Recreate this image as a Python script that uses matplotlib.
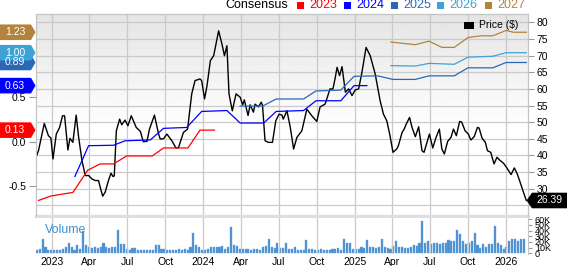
import pandas as pd
import matplotlib
matplotlib.use('Agg')
import matplotlib.pyplot as plt
import numpy as np
from matplotlib.patches import Polygon, Rectangle
from matplotlib.transforms import IdentityTransform

plt.rcParams['font.family'] = ['Liberation Sans', 'DejaVu Sans']

# ---- data ----
price_dates = ['2022-11-23', '2022-11-29', '2022-12-13', '2022-12-23', '2022-12-29', '2023-01-03',
               '2023-01-11', '2023-01-19', '2023-01-26', '2023-01-31', '2023-02-08', '2023-02-13',
               '2023-02-20', '2023-02-28', '2023-03-06', '2023-03-14', '2023-03-22', '2023-03-30',
               '2023-04-07', '2023-04-15', '2023-04-23', '2023-04-27', '2023-05-03', '2023-05-09',
               '2023-05-17', '2023-05-23', '2023-05-28', '2023-05-31', '2023-06-05', '2023-06-13',
               '2023-06-18', '2023-06-26', '2023-07-03', '2023-07-11', '2023-07-23', '2023-08-02',
               '2023-08-09', '2023-08-18', '2023-08-24', '2023-09-05', '2023-09-15', '2023-09-19',
               '2023-09-27', '2023-10-05', '2023-10-17', '2023-10-27', '2023-11-02', '2023-11-14',
               '2023-11-24', '2023-12-04', '2023-12-12', '2023-12-24', '2023-12-28', '2024-01-04',
               '2024-01-10', '2024-01-18', '2024-01-26', '2024-02-07', '2024-02-15', '2024-02-21',
               '2024-02-27', '2024-03-03', '2024-03-11', '2024-03-20', '2024-03-30', '2024-04-05',
               '2024-04-09', '2024-04-18', '2024-04-23', '2024-05-01', '2024-05-05', '2024-05-13',
               '2024-05-20', '2024-05-23', '2024-05-29', '2024-06-06', '2024-06-16', '2024-06-24',
               '2024-07-02', '2024-07-09', '2024-07-12', '2024-07-21', '2024-07-29', '2024-08-06',
               '2024-08-14', '2024-08-26', '2024-09-07', '2024-09-19', '2024-10-01', '2024-10-09',
               '2024-10-21', '2024-11-02', '2024-11-09', '2024-11-14', '2024-11-19', '2024-11-25',
               '2024-12-01', '2024-12-09', '2024-12-17', '2024-12-25', '2025-01-02', '2025-01-10',
               '2025-01-18', '2025-01-28', '2025-02-07', '2025-02-19', '2025-03-03', '2025-03-11',
               '2025-03-19', '2025-03-26', '2025-04-03', '2025-04-12', '2025-04-16', '2025-04-25',
               '2025-04-30', '2025-05-05', '2025-05-13', '2025-05-19', '2025-05-27', '2025-06-04',
               '2025-06-12', '2025-06-17', '2025-06-24', '2025-06-30', '2025-07-08', '2025-07-16',
               '2025-07-24', '2025-07-30', '2025-08-05', '2025-08-13', '2025-08-21', '2025-08-27',
               '2025-09-03', '2025-09-11', '2025-09-16', '2025-09-24', '2025-10-02', '2025-10-08',
               '2025-10-16', '2025-10-24', '2025-10-28', '2025-11-04', '2025-11-12', '2025-11-17',
               '2025-11-25', '2025-12-03', '2025-12-10', '2025-12-18', '2025-12-26', '2026-01-03',
               '2026-01-13', '2026-01-21', '2026-01-28', '2026-02-04', '2026-02-12', '2026-02-19']
price_vals = [39.4, 41.4, 49.6, 45.9, 45.2, 38.9,
              46.4, 48.4, 51.9, 51.9, 41.6, 45.1,
              43.9, 52.1, 45.4, 38.4, 33.9, 33.9,
              32.9, 32.4, 32.4, 30.4, 27.7, 28.9,
              32.4, 34.6, 33.6, 33.8, 47.4, 50.9,
              49.2, 50.6, 48.9, 51.9, 48.4, 47.2,
              44.1, 44.2, 47.9, 52.1, 46.4, 44.9,
              45.0, 46.4, 44.4, 42.2, 42.3, 46.9,
              47.9, 58.5, 62.5, 63.0, 62.5, 57.0,
              61.0, 68.5, 70.0, 77.5, 73.5, 70.0,
              73.0, 58.5, 53.4, 58.5, 57.5, 55.2,
              56.7, 52.0, 55.2, 53.0, 55.4, 54.6,
              56.0, 55.0, 44.4, 43.9, 43.9, 50.4,
              52.4, 52.1, 50.9, 53.4, 48.4, 41.9,
              45.4, 47.4, 53.9, 51.9, 50.2, 54.6,
              55.4, 60.0, 60.0, 63.0, 66.5, 64.0,
              66.7, 59.0, 60.0, 58.0, 59.7, 60.0,
              65.0, 72.5, 70.0, 64.5, 56.4, 52.4,
              50.4, 46.4, 40.9, 41.9, 42.9, 46.9,
              47.9, 49.4, 51.4, 48.4, 45.6, 48.6,
              41.4, 40.9, 43.9, 46.4, 42.2, 45.4,
              47.9, 41.9, 40.4, 44.2, 45.4, 47.9,
              45.9, 50.2, 50.0, 47.4, 46.4, 44.6,
              45.6, 48.4, 48.2, 45.2, 43.9, 41.4,
              40.9, 37.4, 39.4, 38.4, 37.6, 36.2,
              34.2, 36.2, 34.4, 31.9, 28.9, 26.39]

eps23_dates = ['2022-11-29', '2022-12-29', '2023-02-20', '2023-03-28', '2023-04-27', '2023-05-29',
               '2023-06-30', '2023-08-31', '2023-09-27', '2023-11-25', '2023-12-24', '2024-01-28']
eps23_vals = [-0.66, -0.61, -0.57, -0.32, -0.25, -0.25, -0.16, -0.16, -0.07, -0.07, 0.13, 0.13]

eps24_dates = ['2023-02-25', '2023-03-30', '2023-05-29', '2023-06-26', '2023-08-26', '2023-09-27',
               '2023-11-22', '2023-12-28', '2024-02-27', '2024-03-30', '2024-05-26', '2024-06-25',
               '2024-08-30', '2024-09-29', '2024-11-28', '2024-12-30', '2025-01-30']
eps24_vals = [-0.39, -0.045, -0.04, 0.01, 0.02, 0.15, 0.16, 0.34, 0.35, 0.21, 0.21, 0.34,
              0.35, 0.46, 0.46, 0.63, 0.63]

eps25_dates = ['2024-03-30', '2024-05-23', '2024-06-25', '2024-08-30', '2024-09-29', '2024-11-28',
               '2024-12-30', '2025-02-25', '2025-04-03', '2025-05-27', '2025-06-29', '2025-08-29',
               '2025-10-01', '2025-11-30', '2026-01-01', '2026-02-19']
eps25_vals = [0.40, 0.40, 0.48, 0.48, 0.57, 0.58, 0.735, 0.74, 0.70, 0.70, 0.74, 0.74,
              0.83, 0.83, 0.89, 0.89]

eps26_dates = ['2025-03-29', '2025-05-27', '2025-06-29', '2025-08-29', '2025-10-01', '2025-11-30',
               '2026-01-01', '2026-02-19']
eps26_vals = [0.855, 0.85, 0.88, 0.87, 0.95, 0.96, 1.00, 1.00]

eps27_dates = ['2025-03-29', '2025-05-27', '2025-06-29', '2025-07-30', '2025-08-29', '2025-10-01',
               '2025-10-31', '2025-11-30', '2026-01-01', '2026-01-19', '2026-02-19']
eps27_vals = [1.12, 1.09, 1.13, 1.06, 1.06, 1.17, 1.19, 1.19, 1.25, 1.23, 1.23]

# weekly volume, thousands of shares
vol_start = '2022-11-25'
volume_k = [5, 7, 25, 12, 6, 5, 6, 6, 5, 7,
            12, 18, 11, 6, 15, 7, 40, 15, 12, 9,
            11, 9, 11, 18, 12, 9, 11, 11, 41, 16,
            16, 7, 5, 9, 9, 5, 6, 5, 5, 5,
            6, 15, 15, 8, 8, 6, 5, 6, 6, 7,
            6, 7, 5, 12, 36, 15, 12, 5, 5, 7,
            11, 11, 11, 11, 13, 7, 11, 46, 15, 13,
            7, 7, 7, 7, 6, 7, 7, 6, 11, 13,
            25, 11, 9, 19,
            9, 9, 18, 7, 7, 12, 5, 6, 6, 24,
            7, 7, 6, 5, 7, 5, 6, 6, 7, 7,
            9, 6, 25, 19, 18, 7, 7, 7, 11, 9,
            24, 11, 11, 9, 12, 25, 12, 9, 7, 13,
            21, 11, 11, 9, 9, 11, 14, 13, 18, 57,
            18, 22, 16, 19, 18, 16, 18, 18, 24,
            22, 22, 42, 34, 21, 16, 19, 22, 35, 15,
            9, 16, 11, 16, 16, 48, 19, 15, 7, 11,
            21, 26, 25, 22, 26, 25]

flag_labels = ['0.13', '0.63', '0.89', '1.00', '1.23']
last_price = 26.39
price_ticks = [25, 30, 35, 40, 45, 50, 55, 60, 65, 70, 75, 80]
price_tick_labels = ['', '30', '35', '40', '45', '50', '55', '60', '65', '70', '75', '80']
vol_ticks = [0, 10, 20, 30, 40, 50, 60]
vol_tick_labels = ['0', '10K', '20K', '30K', '40K', '50K', '60K']

c23, c24, c25, c26, c27 = '#ff0000', '#0000ff', '#2a68b5', '#3fa2d6', '#b3833c'
grid_c = '#cacaca'

# ---- figure ----
W, H = 568, 266
fig = plt.figure(figsize=(W / 100, H / 100), dpi=100)
ax = fig.add_axes([36 / W, 1 - 216 / H, 492 / W, 202 / H])
vol = fig.add_axes([36 / W, 1 - 254 / H, 492 / W, 36 / H], sharex=ax)
ax_eps = ax.twinx()

# background gradient (grey at top, white lower down)
grad = np.clip(np.linspace(0.895, 1.08, 200), 0, 1).reshape(-1, 1)
ax.imshow(grad, extent=[0, 1, 0, 1], transform=ax.transAxes, aspect='auto',
          cmap='gray', vmin=0, vmax=1, zorder=0, origin='upper')

# price on the right-hand axis
ax.plot(pd.to_datetime(price_dates), price_vals, color='black', lw=1.0, zorder=3)
ax.set_ylim(21.72, 82.56)
ax.set_yticks(price_ticks)
ax.set_yticklabels(price_tick_labels)
ax.yaxis.tick_right()
ax.tick_params(axis='y', length=4, width=0.8, color='#999999', labelsize=7.5, pad=2)
ax.tick_params(axis='x', length=0, labelbottom=False)
ax.grid(True, color=grid_c, lw=0.9)

# consensus EPS on the left-hand axis
for d, v, c in [(eps23_dates, eps23_vals, c23), (eps24_dates, eps24_vals, c24),
                (eps25_dates, eps25_vals, c25), (eps26_dates, eps26_vals, c26),
                (eps27_dates, eps27_vals, c27)]:
    ax_eps.plot(pd.to_datetime(d), v, color=c, lw=0.9)
ax_eps.set_ylim(-0.835, 1.435)
ax_eps.set_yticks([-0.5, 0.0, 0.5])
ax_eps.set_yticklabels(['-0.5', '0.0', '0.5'])
ax_eps.yaxis.tick_left()
ax_eps.tick_params(axis='y', length=5, width=0.8, color='#999999', labelsize=7.5, pad=2)

ax.set_xlim(pd.Timestamp('2022-11-23'), pd.Timestamp('2026-02-23'))

# volume
vol_dates = pd.date_range(vol_start, periods=len(volume_k), freq='7D')
vol.bar(vol_dates, volume_k, width=5, color='#4a8fd0', edgecolor='#6aa6dc', lw=0.3)
vol.set_ylim(-1.2, 62.3)
vol.set_yticks(vol_ticks)
vol.set_yticklabels(vol_tick_labels)
vol.yaxis.tick_right()
vol.tick_params(axis='y', length=3, width=0.8, color='#999999', labelsize=6.5, pad=2)
vol.grid(True, axis='x', color=grid_c, lw=0.9)
vol.text(9 / 492, 0.68, 'Volume', transform=vol.transAxes, color='#3d8fd4', fontsize=9,
         va='center', ha='left')

ticks = pd.to_datetime(['2023-01-01', '2023-04-01', '2023-07-01', '2023-10-01',
                        '2024-01-01', '2024-04-01', '2024-07-01', '2024-10-01',
                        '2025-01-01', '2025-04-01', '2025-07-01', '2025-10-01', '2026-01-01'])
vol.set_xticks(ticks)
vol.set_xticklabels([t.strftime('%Y') if t.month == 1 else t.strftime('%b') for t in ticks])
vol.tick_params(axis='x', length=0, labelsize=7.5, pad=2)

for a in (ax, ax_eps, vol):
    for s in a.spines.values():
        s.set_color('#c4c4c4')
        s.set_linewidth(0.8)
for s in ('top', 'bottom', 'left'):
    vol.spines[s].set_visible(False)
ax.spines['bottom'].set_color('#dedede')
ax.spines['bottom'].set_linewidth(2.5)
ax_eps.spines['bottom'].set_visible(False)

# ---- flags on the left with the latest consensus values ----
ident = IdentityTransform()
flag_colors = [c23, c24, c25, c26, c27]
flag_vals = [eps23_vals[-1], eps24_vals[-1], eps25_vals[-1], eps26_vals[-1], eps27_vals[-1]]
for lab, v, c in zip(flag_labels, flag_vals, flag_colors):
    y = ax_eps.transData.transform((0, v))[1]
    hh = 7.8
    fig.add_artist(Polygon([(0, y - hh), (31, y - hh), (35.5, y), (31, y + hh), (0, y + hh)],
                           closed=True, transform=ident, facecolor=c, edgecolor='none'))
    fig.text(15 / W, y / H, lab, color='white', fontsize=7.5, ha='center', va='center')

# price tag on the right
y = ax.transData.transform((0, last_price))[1]
hh = 7.8
fig.add_artist(Polygon([(526.5, y), (532, y - hh), (567, y - hh), (567, y + hh), (532, y + hh)],
                       closed=True, transform=ident, facecolor='black', edgecolor='none',
                       zorder=10))
fig.text(549.5 / W, y / H, f'{last_price:.2f}', color='white', fontsize=7.5,
         ha='center', va='center', zorder=11)

# ---- legends ----
ly = 1 - 5.5 / H
fig.text(225 / W, ly, 'Consensus', fontsize=9, va='center', ha='left')
for x0, lab, c in [(297, '2023', c23), (344, '2024', c24), (391, '2025', c25),
                   (437, '2026', c26), (485, '2027', c27)]:
    fig.add_artist(Rectangle((x0 / W, 1 - 8.5 / H), 7 / W, 7 / H, transform=fig.transFigure,
                             facecolor=c, edgecolor='none'))
    fig.text((x0 + 12) / W, ly, lab, fontsize=9, color=c, va='center', ha='left')

fig.add_artist(Rectangle((464 / W, 1 - 28.5 / H), 10 / W, 6 / H, transform=fig.transFigure,
                         facecolor='black', edgecolor='none'))
fig.text(479 / W, 1 - 25.5 / H, 'Price ($)', fontsize=7.5, va='center', ha='left')

fig.savefig('out.png', dpi=100)
